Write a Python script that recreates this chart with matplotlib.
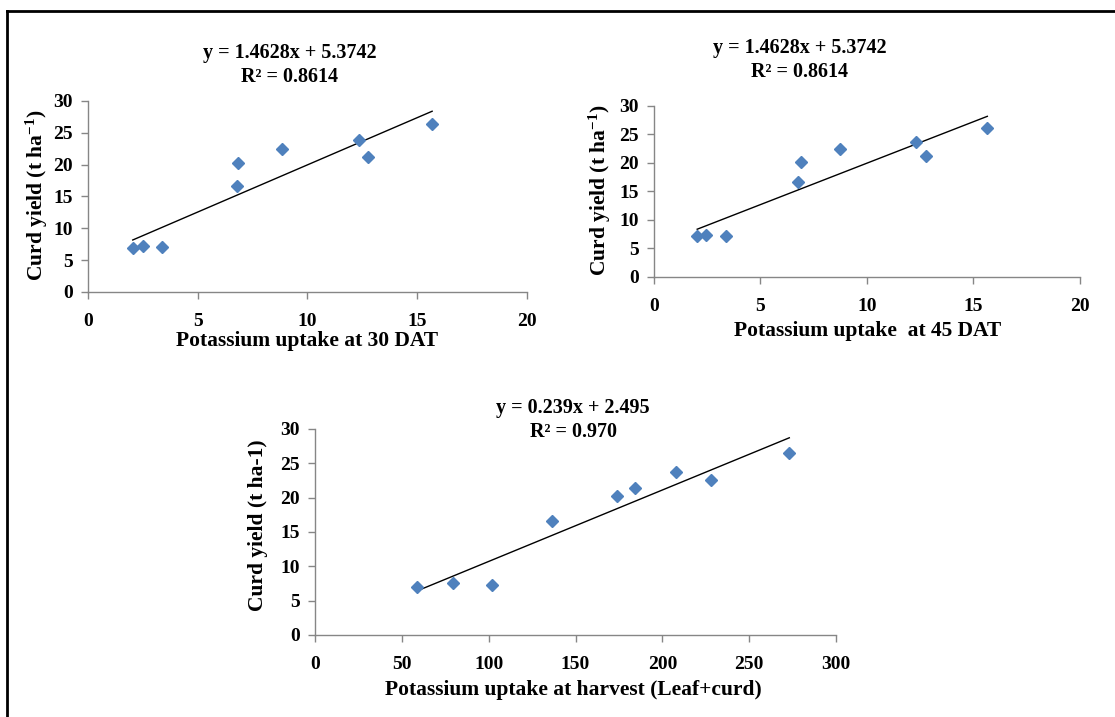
import numpy as np
import matplotlib
matplotlib.use("Agg")
import matplotlib.pyplot as plt
from matplotlib import rcParams

# Potassium uptake vs curd yield
k_30dat = [2.04, 2.50, 3.35, 6.79, 6.85, 8.83, 12.33, 12.76, 15.68]
yield_30dat = [6.9, 7.2, 7.0, 16.6, 20.2, 22.4, 23.8, 21.2, 26.4]

k_45dat = [2.03, 2.46, 3.36, 6.78, 6.91, 8.74, 12.30, 12.78, 15.65]
yield_45dat = [7.2, 7.4, 7.2, 16.6, 20.1, 22.5, 23.7, 21.2, 26.2]

k_harvest = [58.8, 79.7, 102.0, 136.4, 173.8, 184.0, 207.7, 227.8, 273.1]
yield_harvest = [7.0, 7.5, 7.3, 16.6, 20.3, 21.4, 23.8, 22.5, 26.5]

eq_30 = ["y = 1.4628x + 5.3742", "R\u00b2 = 0.8614"]
eq_45 = ["y = 1.4628x + 5.3742", "R\u00b2 = 0.8614"]
eq_harvest = ["y = 0.239x + 2.495", "R\u00b2 = 0.970"]

rcParams.update({'font.family': 'Liberation Serif',
                 'font.weight': 'bold',
                 'mathtext.fontset': 'custom',
                 'mathtext.rm': 'Liberation Serif:bold',
                 'mathtext.default': 'rm'})

blue = '#4F81BD'
grey = '#868686'
eq_size = 14.5
label_size = 15.5


def scatter_panel(ax, x, y, xmax, xstep):
    ax.plot(x, y, linestyle='none', marker='D', markersize=6.2,
            color=blue, zorder=3)
    # linear trendline over the data range
    slope, icpt = np.polyfit(x, y, 1)
    xs = np.array([min(x), max(x)])
    ax.plot(xs, slope * xs + icpt, color='black', linewidth=1.0, zorder=2)
    ax.set_xlim(0, xmax)
    ax.set_ylim(0, 30)
    ax.set_xticks(np.arange(0, xmax + 1, xstep))
    ax.set_yticks(np.arange(0, 31, 5))
    for side in ['top', 'right']:
        ax.spines[side].set_visible(False)
    for side in ['left', 'bottom']:
        ax.spines[side].set_color(grey)
        ax.spines[side].set_linewidth(1.0)
    ax.tick_params(axis='both', colors=grey, length=5, width=1.0,
                   labelsize=14, labelcolor='black')
    ax.tick_params(axis='x', pad=10)
    ax.tick_params(axis='y', pad=6)
    ax.patch.set_alpha(0)


fig = plt.figure(figsize=(11.15, 7.17), dpi=100)

# frame around the page (top and left edges only)
fig.add_artist(plt.Line2D([0.0065, 0.0065], [0, 0.985], color='black',
                          linewidth=2.0, transform=fig.transFigure))
fig.add_artist(plt.Line2D([0.0065, 1.0], [0.985, 0.985], color='black',
                          linewidth=2.0, transform=fig.transFigure))

# 30 DAT
ax1 = fig.add_axes([0.0789, 0.5928, 0.3937, 0.2664])
scatter_panel(ax1, k_30dat, yield_30dat, 20, 5)
fig.text(0.260, 0.926, eq_30[0], ha='center', va='center', fontsize=eq_size)
fig.text(0.260, 0.893, eq_30[1], ha='center', va='center', fontsize=eq_size)
fig.text(0.275, 0.525, "Potassium uptake at 30 DAT", ha='center',
         va='center', fontsize=label_size)
fig.text(0.033, 0.727, "Curd yield (t ha$^{-1}$)", ha='center', va='center',
         rotation=90, fontsize=label_size)

# 45 DAT
ax2 = fig.add_axes([0.5865, 0.6137, 0.3821, 0.2385])
scatter_panel(ax2, k_45dat, yield_45dat, 20, 5)
fig.text(0.717, 0.933, eq_45[0], ha='center', va='center', fontsize=eq_size)
fig.text(0.717, 0.900, eq_45[1], ha='center', va='center', fontsize=eq_size)
fig.text(0.778, 0.539, "Potassium uptake  at 45 DAT", ha='center',
         va='center', fontsize=label_size)
fig.text(0.538, 0.735, "Curd yield (t ha$^{-1}$)", ha='center', va='center',
         rotation=90, fontsize=label_size)

# at harvest
ax3 = fig.add_axes([0.2825, 0.1144, 0.4673, 0.2873])
scatter_panel(ax3, k_harvest, yield_harvest, 300, 50)
fig.text(0.514, 0.431, eq_harvest[0], ha='center', va='center',
         fontsize=eq_size)
fig.text(0.514, 0.398, eq_harvest[1], ha='center', va='center',
         fontsize=eq_size)
fig.text(0.514, 0.037, "Potassium uptake at harvest (Leaf+curd)",
         ha='center', va='center', fontsize=label_size)
fig.text(0.231, 0.268, "Curd yield (t ha-1)", ha='center', va='center',
         rotation=90, fontsize=label_size)

fig.savefig("out.png", dpi=100)
